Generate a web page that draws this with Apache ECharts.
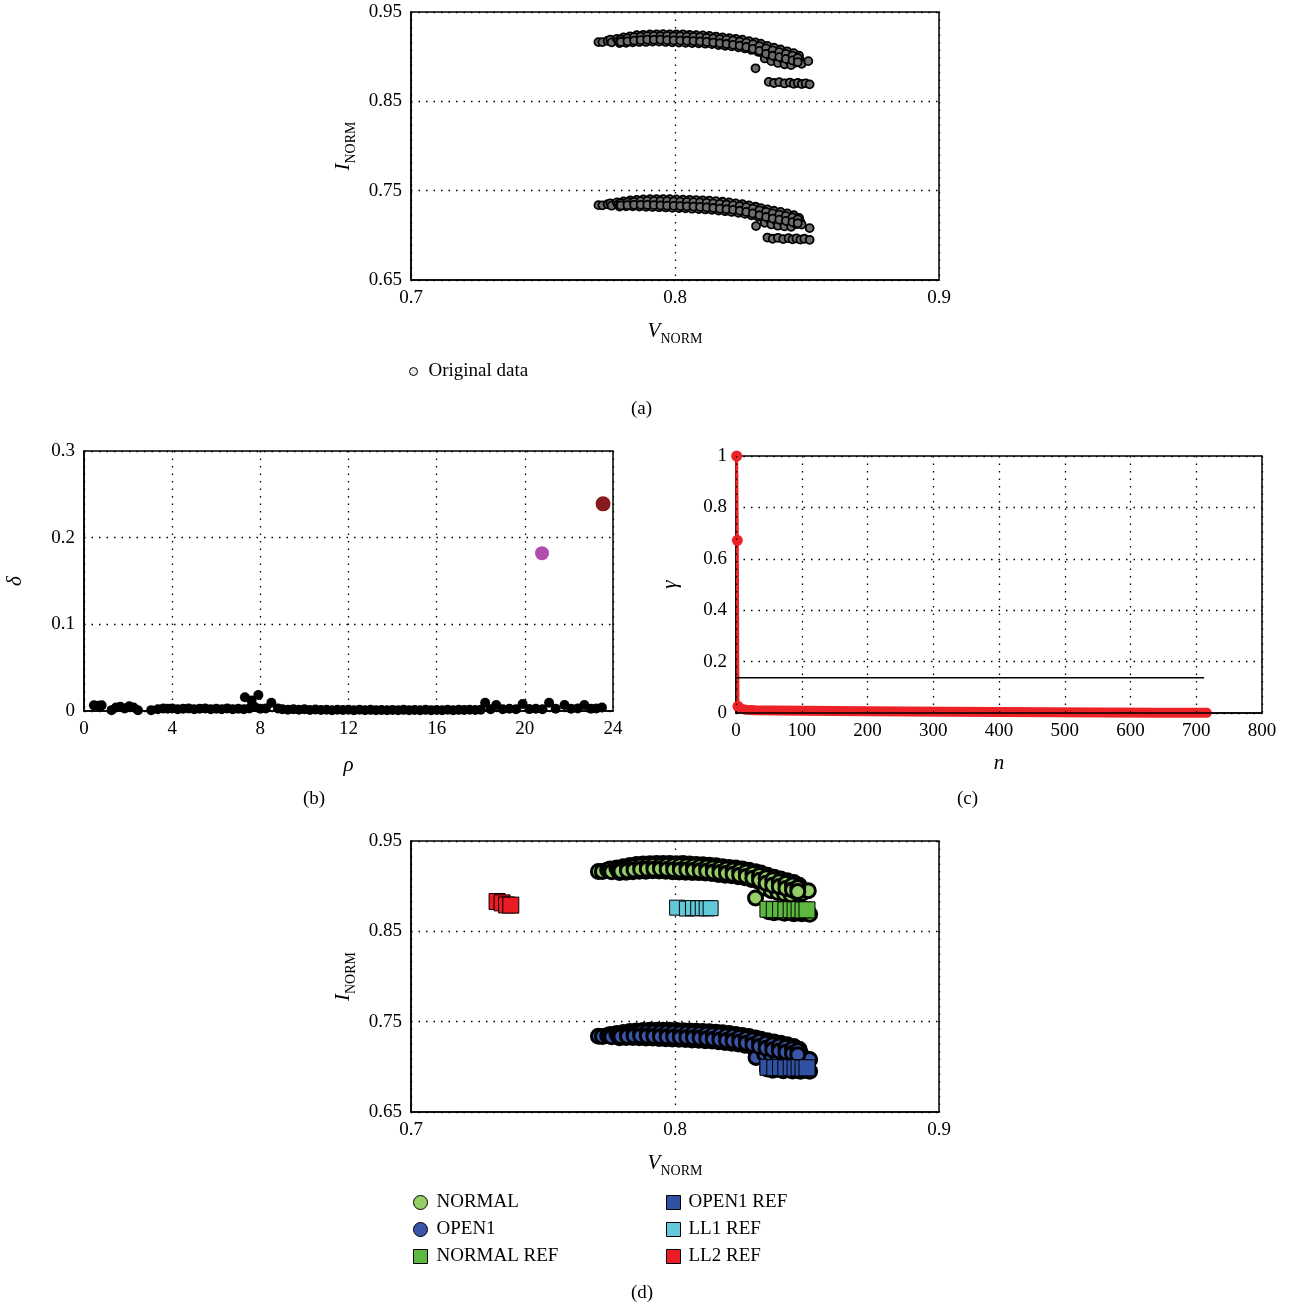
<!DOCTYPE html>
<html>
<head>
<meta charset="utf-8">
<script src="https://cdn.jsdelivr.net/npm/echarts@6/dist/echarts.min.js"></script>
<style>
  html, body { margin: 0; padding: 0; background: #fff; }
  #chart { width: 1290px; height: 1308px; }
</style>
</head>
<body>
<div id="chart"></div>
<script>
// (a)/(d) normalised current vs voltage, upper cloud = NORMAL
var normalPts = [
  [0.7710,0.9163],[0.7725,0.9163],[0.7745,0.9178],[0.7755,0.9190],[0.7760,0.9160],
  [0.7780,0.9200],[0.7785,0.9175],[0.7790,0.9152],
  [0.7805,0.9215],[0.7810,0.9185],[0.7815,0.9155],
  [0.7830,0.9228],[0.7835,0.9195],[0.7840,0.9160],
  [0.7855,0.9240],[0.7860,0.9205],[0.7865,0.9165],
  [0.7880,0.9245],[0.7885,0.9210],[0.7890,0.9165],
  [0.7905,0.9248],[0.7910,0.9212],[0.7915,0.9170],
  [0.7930,0.9250],[0.7935,0.9208],[0.7940,0.9168],
  [0.7955,0.9252],[0.7960,0.9215],[0.7965,0.9165],
  [0.7980,0.9250],[0.7985,0.9205],[0.7990,0.9160],
  [0.8005,0.9248],[0.8010,0.9210],[0.8015,0.9158],
  [0.8030,0.9250],[0.8035,0.9200],[0.8040,0.9155],
  [0.8055,0.9245],[0.8060,0.9205],[0.8065,0.9152],
  [0.8080,0.9240],[0.8085,0.9195],[0.8090,0.9150],
  [0.8105,0.9238],[0.8110,0.9190],[0.8115,0.9145],
  [0.8130,0.9232],[0.8135,0.9185],[0.8140,0.9140],
  [0.8155,0.9225],[0.8160,0.9178],[0.8165,0.9130],
  [0.8180,0.9215],[0.8185,0.9170],[0.8190,0.9122],
  [0.8205,0.9208],[0.8210,0.9160],[0.8215,0.9115],
  [0.8230,0.9200],[0.8235,0.9150],[0.8240,0.9105],
  [0.8255,0.9190],[0.8260,0.9140],[0.8265,0.9092],
  [0.8280,0.9175],[0.8285,0.9125],[0.8290,0.9075],
  [0.8305,0.9160],[0.8310,0.9105],[0.8315,0.9055],[0.8305,0.8870],
  [0.8325,0.9145],[0.8330,0.9085],[0.8335,0.9030],[0.8340,0.8980],
  [0.8350,0.9120],[0.8355,0.9060],[0.8360,0.9005],[0.8365,0.8950],
  [0.8375,0.9100],[0.8380,0.9040],[0.8385,0.8985],[0.8390,0.8930],
  [0.8400,0.9080],[0.8405,0.9020],[0.8410,0.8965],[0.8415,0.8915],
  [0.8425,0.9060],[0.8430,0.9000],[0.8435,0.8945],[0.8440,0.8905],
  [0.8450,0.9040],[0.8455,0.8985],[0.8460,0.8935],
  [0.8470,0.9010],[0.8475,0.8955],[0.8480,0.8920],
  [0.8505,0.8950],
  [0.7795,0.9192],[0.7795,0.9165],[0.7820,0.9205],[0.7820,0.9172],[0.7845,0.9218],[0.7845,0.9180],
  [0.7870,0.9225],[0.7870,0.9185],[0.7895,0.9230],[0.7895,0.9190],[0.7920,0.9232],[0.7920,0.9188],
  [0.7945,0.9230],[0.7945,0.9190],[0.7970,0.9232],[0.7970,0.9185],[0.7995,0.9228],[0.7995,0.9182],
  [0.8020,0.9230],[0.8020,0.9180],[0.8045,0.9225],[0.8045,0.9178],[0.8070,0.9222],[0.8070,0.9175],
  [0.8095,0.9218],[0.8095,0.9170],[0.8120,0.9212],[0.8120,0.9165],[0.8145,0.9205],[0.8145,0.9158],
  [0.8170,0.9198],[0.8170,0.9150],[0.8195,0.9190],[0.8195,0.9142],[0.8220,0.9180],[0.8220,0.9132],
  [0.8245,0.9170],[0.8245,0.9122],[0.8270,0.9158],[0.8270,0.9108],[0.8295,0.9140],[0.8295,0.9088],
  [0.8320,0.9118],[0.8320,0.9065],[0.8345,0.9092],[0.8345,0.9032],[0.8370,0.9070],[0.8370,0.9010],
  [0.8395,0.9050],[0.8395,0.8995],[0.8420,0.9032],[0.8420,0.8975],[0.8445,0.9012],[0.8445,0.8958],
  [0.8465,0.8985],[0.8465,0.8940],
  [0.8355,0.8718],[0.8375,0.8705],[0.8395,0.8715],[0.8415,0.8700],[0.8435,0.8710],
  [0.8450,0.8696],[0.8465,0.8706],[0.8480,0.8694],[0.8495,0.8702],[0.8510,0.8690]
];

// lower cloud = OPEN1
var open1Pts = [
  [0.7710,0.7338],[0.7725,0.7336],[0.7745,0.7348],[0.7755,0.7358],[0.7760,0.7332],
  [0.7780,0.7368],[0.7785,0.7345],[0.7790,0.7322],
  [0.7805,0.7380],[0.7810,0.7352],[0.7815,0.7325],
  [0.7830,0.7390],[0.7835,0.7358],[0.7840,0.7325],
  [0.7855,0.7398],[0.7860,0.7362],[0.7865,0.7322],
  [0.7880,0.7402],[0.7885,0.7365],[0.7890,0.7320],
  [0.7905,0.7405],[0.7910,0.7362],[0.7915,0.7318],
  [0.7930,0.7405],[0.7935,0.7360],[0.7940,0.7315],
  [0.7955,0.7406],[0.7960,0.7358],[0.7965,0.7312],
  [0.7980,0.7405],[0.7985,0.7355],[0.7990,0.7308],
  [0.8005,0.7402],[0.8010,0.7352],[0.8015,0.7305],
  [0.8030,0.7400],[0.8035,0.7350],[0.8040,0.7302],
  [0.8055,0.7398],[0.8060,0.7348],[0.8065,0.7298],
  [0.8080,0.7395],[0.8085,0.7345],[0.8090,0.7295],
  [0.8105,0.7392],[0.8110,0.7340],[0.8115,0.7290],
  [0.8130,0.7388],[0.8135,0.7335],[0.8140,0.7285],
  [0.8155,0.7382],[0.8160,0.7330],[0.8165,0.7278],
  [0.8180,0.7376],[0.8185,0.7322],[0.8190,0.7270],
  [0.8205,0.7368],[0.8210,0.7315],[0.8215,0.7262],
  [0.8230,0.7358],[0.8235,0.7305],[0.8240,0.7252],
  [0.8255,0.7348],[0.8260,0.7295],[0.8265,0.7240],
  [0.8280,0.7335],[0.8285,0.7280],[0.8290,0.7225],
  [0.8305,0.7320],[0.8310,0.7262],[0.8315,0.7208],[0.8307,0.7104],
  [0.8325,0.7305],[0.8330,0.7245],[0.8335,0.7190],[0.8340,0.7140],
  [0.8350,0.7290],[0.8355,0.7228],[0.8360,0.7172],[0.8365,0.7122],
  [0.8375,0.7275],[0.8380,0.7212],[0.8385,0.7158],[0.8390,0.7108],
  [0.8400,0.7262],[0.8405,0.7198],[0.8410,0.7145],[0.8415,0.7100],
  [0.8425,0.7245],[0.8430,0.7185],[0.8435,0.7135],[0.8440,0.7095],
  [0.8450,0.7225],[0.8455,0.7170],[0.8460,0.7125],
  [0.8470,0.7195],[0.8475,0.7150],[0.8480,0.7120],
  [0.8510,0.7081],
  [0.7795,0.7360],[0.7795,0.7335],[0.7820,0.7368],[0.7820,0.7338],[0.7845,0.7375],[0.7845,0.7342],
  [0.7870,0.7382],[0.7870,0.7342],[0.7895,0.7385],[0.7895,0.7340],[0.7920,0.7385],[0.7920,0.7338],
  [0.7945,0.7383],[0.7945,0.7335],[0.7970,0.7382],[0.7970,0.7332],[0.7995,0.7380],[0.7995,0.7330],
  [0.8020,0.7377],[0.8020,0.7327],[0.8045,0.7375],[0.8045,0.7325],[0.8070,0.7372],[0.8070,0.7322],
  [0.8095,0.7368],[0.8095,0.7318],[0.8120,0.7364],[0.8120,0.7312],[0.8145,0.7358],[0.8145,0.7306],
  [0.8170,0.7352],[0.8170,0.7298],[0.8195,0.7345],[0.8195,0.7292],[0.8220,0.7338],[0.8220,0.7285],
  [0.8245,0.7328],[0.8245,0.7275],[0.8270,0.7315],[0.8270,0.7262],[0.8295,0.7298],[0.8295,0.7245],
  [0.8320,0.7280],[0.8320,0.7225],[0.8345,0.7262],[0.8345,0.7205],[0.8370,0.7245],[0.8370,0.7188],
  [0.8395,0.7232],[0.8395,0.7175],[0.8420,0.7218],[0.8420,0.7162],[0.8445,0.7200],[0.8445,0.7148],
  [0.8465,0.7180],[0.8465,0.7135],
  [0.8350,0.6975],[0.8370,0.6962],[0.8390,0.6972],[0.8410,0.6958],[0.8430,0.6968],
  [0.8445,0.6955],[0.8460,0.6965],[0.8475,0.6952],[0.8490,0.6962],[0.8510,0.6950]
];

// reference points (d)
var normalRef = [[0.8352,0.8745],[0.8376,0.8740],[0.8400,0.8742],[0.8420,0.8738],[0.8440,0.8740],[0.8455,0.8737],[0.8470,0.8740],[0.8485,0.8736],[0.8500,0.8738]];
var open1Ref  = [[0.8352,0.6995],[0.8378,0.6990],[0.8400,0.6993],[0.8420,0.6988],[0.8440,0.6991],[0.8455,0.6987],[0.8470,0.6990],[0.8485,0.6986],[0.8500,0.6989]];
var ll1Ref    = [[0.8008,0.8762],[0.8045,0.8752],[0.8068,0.8758],[0.8088,0.8755],[0.8105,0.8757],[0.8120,0.8754],[0.8135,0.8756]];
var ll2Ref    = [[0.7326,0.8830],[0.7345,0.8815],[0.7362,0.8792],[0.7378,0.8790]];

// (b) decision graph rho / delta
var decision = [
  [0.45,0.0065],[0.65,0.0060],[0.80,0.0065],[1.25,0.0010],[1.45,0.0040],[1.65,0.0050],[1.85,0.0030],
  [2.05,0.0055],[2.25,0.0040],[2.45,0.0008],[3.05,0.0010],[3.35,0.0020],[3.60,0.0030],[3.80,0.0025],
  [4.00,0.0030],[4.25,0.0020],[4.50,0.0025],[4.75,0.0030],[5.00,0.0020],[5.25,0.0025],[5.50,0.0030],
  [5.75,0.0020],[6.00,0.0025],[6.25,0.0020],[6.50,0.0030],[6.75,0.0020],[7.00,0.0025],[7.25,0.0020],
  [7.30,0.0158],[7.60,0.0120],[7.91,0.0185],[7.50,0.0030],[7.75,0.0045],[8.00,0.0025],[8.25,0.0030],
  [8.50,0.0096],[8.80,0.0030],[9.00,0.0020],[9.25,0.0015],[9.50,0.0020],[9.75,0.0015],[10.00,0.0020],
  [10.25,0.0012],[10.50,0.0018],[10.75,0.0012],[11.00,0.0015],[11.25,0.0010],[11.50,0.0015],[11.75,0.0012],
  [12.00,0.0015],[12.25,0.0010],[12.50,0.0014],[12.75,0.0010],[13.00,0.0013],[13.25,0.0010],[13.50,0.0012],
  [13.75,0.0009],[14.00,0.0012],[14.25,0.0010],[14.50,0.0013],[14.75,0.0009],[15.00,0.0012],[15.25,0.0010],
  [15.50,0.0013],[15.75,0.0010],[16.00,0.0012],[16.25,0.0010],[16.50,0.0014],[16.75,0.0010],[17.00,0.0013],
  [17.25,0.0011],[17.50,0.0014],[17.75,0.0012],[18.00,0.0015],[18.20,0.0096],[18.45,0.0020],[18.70,0.0070],
  [19.00,0.0020],[19.30,0.0025],[19.60,0.0020],[19.90,0.0080],[20.20,0.0022],[20.50,0.0025],[20.80,0.0020],
  [21.10,0.0096],[21.40,0.0025],[21.80,0.0070],[22.10,0.0025],[22.40,0.0030],[22.70,0.0070],[23.00,0.0025],
  [23.25,0.0030],[23.50,0.0040]
];
var centerPurple = [[20.78,0.182]];
var centerRed = [[23.55,0.239]];

// (c) gamma sorted, n vs gamma
var gammaN = [1, 2, 3, 5, 8, 15, 30, 60, 100, 150, 200, 260, 320, 400, 480, 560, 640, 716];
var gammaV = [1, 0.672, 0.026, 0.020, 0.016, 0.013, 0.011, 0.010, 0.009, 0.008, 0.007, 0.006, 0.005, 0.004, 0.003, 0.002, 0.001, 0.0005];
var threshN = [0, 712];
var threshV = 0.137;

var serif = 'Liberation Serif';
var dotted = { color: '#000', width: 1.3, type: [1.5, 6] };

function axisLook(o) {
  var base = {
    axisLine: { show: true, onZero: false, lineStyle: { color: '#000', width: 1.5 } },
    axisTick: { show: false },
    axisLabel: { color: '#000', fontFamily: serif, fontSize: 19, margin: 9 },
    splitLine: { show: true, lineStyle: dotted },
    nameLocation: 'middle'
  };
  for (var k in o) base[k] = o[k];
  return base;
}

var subRich = {
  i: { fontFamily: serif, fontStyle: 'italic', fontSize: 21, color: '#000', lineHeight: 30, verticalAlign: 'middle' },
  s: { fontFamily: serif, fontSize: 14, color: '#000', lineHeight: 16, verticalAlign: 'bottom' }
};
var greekName = { fontFamily: serif, fontStyle: 'italic', fontSize: 21, color: '#000' };

var gridBox = { show: true, borderColor: '#000', borderWidth: 1.5, containLabel: false };
function gridAt(l, t, w, h) {
  return Object.assign({ left: l, top: t, width: w, height: h }, gridBox);
}

var gammaPairs = gammaN.map(function (n, i) { return [n, gammaV[i]]; });
var gammaHead = gammaPairs.map(function (p) {
  return { value: p, symbol: p[1] > 0.02 ? 'circle' : 'none' };
});
var gammaTail = gammaPairs.slice(2);

var capFont = '19px "Liberation Serif"';
var legendText = { fontFamily: serif, fontSize: 19, color: '#000', lineHeight: 14 };
function legendItem(name, color) {
  return { name: name, itemStyle: { color: color, borderColor: '#000', borderWidth: 1 } };
}

var chart = echarts.init(document.getElementById('chart'));
chart.setOption({
  animation: false,
  backgroundColor: '#fff',
  grid: [
    gridAt(411, 12, 528, 268),
    gridAt(84, 451, 529, 260),
    gridAt(736, 456, 526, 257),
    gridAt(411, 841, 528, 271)
  ],
  xAxis: [
    axisLook({ gridIndex: 0, type: 'value', min: 0.7, max: 0.9, interval: 0.1,
      name: '{i|V}{s|NORM}', nameGap: 36, nameTextStyle: { rich: subRich } }),
    axisLook({ gridIndex: 1, type: 'value', min: 0, max: 24, interval: 4,
      name: 'ρ', nameGap: 44, nameTextStyle: greekName }),
    axisLook({ gridIndex: 2, type: 'value', min: 0, max: 800, interval: 100, z: 5,
      name: 'n', nameGap: 40, nameTextStyle: greekName }),
    axisLook({ gridIndex: 3, type: 'value', min: 0.7, max: 0.9, interval: 0.1,
      name: '{i|V}{s|NORM}', nameGap: 36, nameTextStyle: { rich: subRich } })
  ],
  yAxis: [
    axisLook({ gridIndex: 0, type: 'value', min: 0.65, max: 0.95, interval: 0.1,
      name: '{i|I}{s|NORM}', nameGap: 53, nameTextStyle: { rich: subRich } }),
    axisLook({ gridIndex: 1, type: 'value', min: 0, max: 0.3, interval: 0.1,
      name: 'δ', nameGap: 58, nameTextStyle: greekName }),
    axisLook({ gridIndex: 2, type: 'value', min: 0, max: 1, interval: 0.2,
      name: 'γ', nameGap: 55, nameTextStyle: greekName }),
    axisLook({ gridIndex: 3, type: 'value', min: 0.65, max: 0.95, interval: 0.1,
      name: '{i|I}{s|NORM}', nameGap: 53, nameTextStyle: { rich: subRich } })
  ],
  legend: [
    {
      data: [legendItem('Original data', '#e6e6e6')], left: 404, top: 357, icon: 'circle',
      itemWidth: 8, itemHeight: 8,
      textStyle: { fontFamily: serif, fontSize: 19, color: '#000', padding: [0, 0, 0, 6] }
    },
    {
      data: [legendItem('NORMAL', '#93cf65'), legendItem('OPEN1', '#3a56a8'), legendItem('NORMAL REF', '#5db83f')],
      left: 408, top: 1188, orient: 'vertical',
      itemWidth: 14, itemHeight: 14, itemGap: 8,
      textStyle: Object.assign({ padding: [0, 0, 0, 4] }, legendText)
    },
    {
      data: [legendItem('OPEN1 REF', '#3152a3'), legendItem('LL1 REF', '#62c9d9'), legendItem('LL2 REF', '#ec1c24')],
      left: 661, top: 1188, orient: 'vertical',
      itemWidth: 14, itemHeight: 14, itemGap: 8,
      textStyle: Object.assign({ padding: [0, 0, 0, 3] }, legendText)
    }
  ],
  graphic: [
    { type: 'text', left: 631, top: 400, style: { text: '(a)', font: capFont, fill: '#000' } },
    { type: 'text', left: 303, top: 790, style: { text: '(b)', font: capFont, fill: '#000' } },
    { type: 'text', left: 957, top: 790, style: { text: '(c)', font: capFont, fill: '#000' } },
    { type: 'text', left: 631, top: 1284, style: { text: '(d)', font: capFont, fill: '#000' } }
  ],
  series: [
    // (a)
    { name: 'Original data', type: 'scatter', xAxisIndex: 0, yAxisIndex: 0, data: normalPts,
      symbolSize: 8, itemStyle: { color: '#6e6e6e', borderColor: '#000', borderWidth: 1.8, opacity: 1 } },
    { name: 'Original data', type: 'scatter', xAxisIndex: 0, yAxisIndex: 0, data: open1Pts,
      symbolSize: 8, itemStyle: { color: '#6e6e6e', borderColor: '#000', borderWidth: 1.8, opacity: 1 } },
    // (b)
    { name: 'points', type: 'scatter', xAxisIndex: 1, yAxisIndex: 1, data: decision, clip: false,
      symbolSize: 10, itemStyle: { color: '#000', opacity: 1 } },
    { name: 'centre 1', type: 'scatter', xAxisIndex: 1, yAxisIndex: 1, data: centerPurple,
      symbolSize: 14, itemStyle: { color: '#b24db0', opacity: 1 } },
    { name: 'centre 2', type: 'scatter', xAxisIndex: 1, yAxisIndex: 1, data: centerRed,
      symbolSize: 15, itemStyle: { color: '#861a1e', opacity: 1 } },
    // (c)
    { name: 'gamma tail', type: 'line', xAxisIndex: 2, yAxisIndex: 2, data: gammaTail, clip: false,
      showSymbol: false, lineStyle: { color: '#ec2227', width: 10, cap: 'round', join: 'round' } },
    { name: 'gamma', type: 'line', xAxisIndex: 2, yAxisIndex: 2, data: gammaHead, clip: false,
      symbol: 'circle', symbolSize: 11, itemStyle: { color: '#ec2227' },
      lineStyle: { color: '#ec2227', width: 3 } },
    { name: 'threshold', type: 'line', xAxisIndex: 2, yAxisIndex: 2,
      data: threshN.map(function (n) { return [n, threshV]; }),
      showSymbol: false, lineStyle: { color: '#000', width: 1.5 } },
    // (d)
    { name: 'NORMAL', type: 'scatter', xAxisIndex: 3, yAxisIndex: 3, data: normalPts,
      symbol: 'circle', symbolSize: 14, itemStyle: { color: '#93cf65', borderColor: '#000', borderWidth: 3, opacity: 1 } },
    { name: 'OPEN1', type: 'scatter', xAxisIndex: 3, yAxisIndex: 3, data: open1Pts,
      symbol: 'circle', symbolSize: 14, itemStyle: { color: '#3a56a8', borderColor: '#000', borderWidth: 3, opacity: 1 } },
    { name: 'NORMAL REF', type: 'scatter', xAxisIndex: 3, yAxisIndex: 3, data: normalRef,
      symbol: 'rect', symbolSize: 16, itemStyle: { color: '#5db83f', borderColor: '#000', borderWidth: 1, opacity: 1 } },
    { name: 'OPEN1 REF', type: 'scatter', xAxisIndex: 3, yAxisIndex: 3, data: open1Ref,
      symbol: 'rect', symbolSize: 16, itemStyle: { color: '#3152a3', borderColor: '#000', borderWidth: 1, opacity: 1 } },
    { name: 'LL1 REF', type: 'scatter', xAxisIndex: 3, yAxisIndex: 3, data: ll1Ref,
      symbol: 'rect', symbolSize: 15, itemStyle: { color: '#62c9d9', borderColor: '#000', borderWidth: 1, opacity: 1 } },
    { name: 'LL2 REF', type: 'scatter', xAxisIndex: 3, yAxisIndex: 3, data: ll2Ref,
      symbol: 'rect', symbolSize: 16, itemStyle: { color: '#ec1c24', borderColor: '#000', borderWidth: 1, opacity: 1 } }
  ]
});
</script>
</body>
</html>
